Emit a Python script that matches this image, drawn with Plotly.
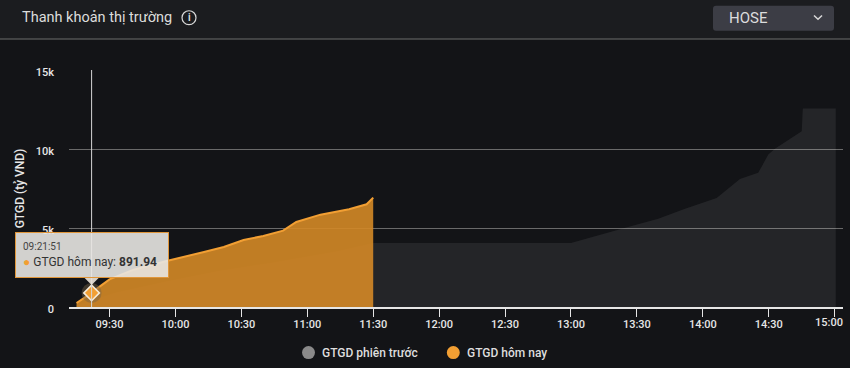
import plotly.graph_objects as go

DAY = "2024-01-02 "
prev_times = ["09:14:48","09:32:30","09:55:00","10:20:00","10:43:00","11:13:30","11:30:00","13:00:00","13:27:36","13:39:42","13:51:54","14:06:18","14:16:54","14:25:12","14:29:48","14:32:48","14:45:00","14:45:30","15:00:30"]
prev_values = [100,900,1600,2300,2790,3526,4050,4050,5127,5591,6225,6900,8108,8490,9647,10008,11122,12560,12560]
today_times = ["09:15:00","09:21:51","09:25:40","09:30:00","09:41:00","09:56:00","10:13:00","10:22:00","10:31:00","10:40:00","10:49:00","10:55:00","11:06:00","11:19:00","11:27:00","11:30:00"]
today_values = [253,891.94,1308,1751,2363,2912,3481,3798,4241,4494,4832,5380,5845,6182,6499,6921]
tick_times = ["09:30","10:00","10:30","11:00","11:30","12:00","12:30","13:00","13:30","14:00","14:30","15:00"]
y_ticks = [0,5000,10000,15000]
y_labels = ["0","5k","10k","15k"]
hover_time = "09:21:51"
hover_value = 891.94
series_names = ["GTGD phiên trước","GTGD hôm nay"]

W, H = 850, 368
L, R, T, B = 69, 843, 70.3, 307.4
FONT = "Roboto"
BG = "#131417"
HEAD = "#1b1c1f"
ORANGE = "#f29f33"

def px(x): return (x - L) / (R - L)
def py(y): return (B - y) / (B - T)
def t(s): return DAY + s

fig = go.Figure()
fig.add_trace(go.Scatter(x=[t(s) for s in prev_times], y=prev_values, name=series_names[0], mode="lines",
                         line=dict(width=0, color="#8a8a8a"), fill="tozeroy", fillcolor="rgba(255,255,255,0.075)", showlegend=False))
fig.add_trace(go.Scatter(x=[t(s) for s in today_times], y=today_values, name=series_names[1], mode="lines",
                         line=dict(width=2, color=ORANGE), fill="tozeroy", fillcolor="rgba(212,136,38,0.9)", showlegend=False))
fig.add_trace(go.Scatter(x=[t(hover_time)], y=[hover_value], mode="markers", hoverinfo="skip", showlegend=False,
                         marker=dict(size=20, color="rgba(120,100,70,0.45)", line=dict(width=0))))
fig.add_trace(go.Scatter(x=[t(hover_time)], y=[hover_value], mode="markers", hoverinfo="skip", showlegend=False,
                         marker=dict(size=12, symbol="diamond", color=ORANGE, line=dict(width=1.6, color="#f5ead8"))))

def rect(x0, y0, x1, y1, fill, layer="below", line=None):
    return dict(type="rect", xref="paper", yref="paper", x0=px(x0), x1=px(x1), y0=py(y0), y1=py(y1),
                fillcolor=fill, line=dict(width=0) if line is None else line, layer=layer)

def rounded(x0, y0, x1, y1, r, fill):
    a, b, c, d = px(x0), px(x1), py(y0), py(y1)
    rx, ry = r / (R - L), r / (B - T)
    path = (f"M {a+rx} {c} L {b-rx} {c} Q {b} {c} {b} {c-ry} L {b} {d+ry} Q {b} {d} {b-rx} {d} "
            f"L {a+rx} {d} Q {a} {d} {a} {d+ry} L {a} {c-ry} Q {a} {c} {a+rx} {c} Z")
    return dict(type="path", xref="paper", yref="paper", path=path, fillcolor=fill, line=dict(width=0), layer="below")

def circle(cx, cy, r, fill, line=None):
    return dict(type="circle", xref="paper", yref="paper", x0=px(cx-r), x1=px(cx+r), y0=py(cy+r), y1=py(cy-r),
                fillcolor=fill, line=dict(width=0) if line is None else line, layer="above")

shapes = [
    rect(0, 0, W, 39, HEAD),
    dict(type="line", xref="paper", yref="paper", x0=px(0), x1=px(W), y0=py(39.3), y1=py(39.3), line=dict(color="#6e6e6e", width=1), layer="below"),
    rounded(713, 6, 834, 31, 3, "#3c3d45"),
    dict(type="path", xref="paper", yref="paper", line=dict(color="#d8d8d8", width=1.5), layer="above",
         path=f"M {px(814)} {py(15.8)} L {px(818)} {py(19.6)} L {px(822)} {py(15.8)}"),
    circle(189, 18, 7, "rgba(0,0,0,0)", dict(color="#d8d8d8", width=1.2)),
    circle(308.5, 353, 6.5, "#8a8a8a"),
    circle(453.3, 353, 6.5, ORANGE),
    dict(type="line", xref="x", yref="paper", x0=t(hover_time), x1=t(hover_time), y0=0, y1=1,
         line=dict(color="#d5d5d5", width=1), layer="above"),
    dict(type="path", xref="x", yref="y", xsizemode="pixel", ysizemode="pixel", xanchor=t(hover_time), yanchor=hover_value,
         path="M -7 15 L 0 8 L 7 15 Z", fillcolor="rgba(232,225,215,0.92)", line=dict(width=0), layer="above"),
]

def note(x, y, text, size, color="#e6e6e6", anchor="left", weight=None):
    f = dict(family=FONT, size=size, color=color)
    if weight: f["weight"] = weight
    return dict(xref="paper", yref="paper", x=px(x), y=py(y), text=text, showarrow=False, xanchor=anchor, yanchor="middle", font=f)

annotations = [
    note(20, 18, "Thanh khoản thị trường", 14.5, "#dcdcdc"),
    note(727, 18.5, "HOSE", 15, "#dcdcdc"),
    note(189, 18, "i", 10, "#dcdcdc", "center", 700),
    note(320, 353, series_names[0], 12, "#dedede", weight=500),
    note(465, 353, series_names[1], 12, "#dedede", weight=500),
    # the last time label sits left of its tick so that it stays inside the page
    note(829, 323, tick_times[-1], 11, "#e6e6e6", "center", 500),
    dict(xref="x", yref="y", x=t(hover_time), y=hover_value, xshift=0.5, yshift=38, showarrow=False,
         xanchor="center", yanchor="middle", width=138, height=30, borderpad=7, align="left", valign="middle",
         bgcolor="rgba(232,230,226,0.9)", bordercolor="#e0963a", borderwidth=1,
         font=dict(family=FONT, size=12, color="#333333"),
         text=(f'<span style="font-size:10px;color:#444444">{hover_time}</span><br>'
               f'<span style="color:{ORANGE}">●</span> {series_names[1]}: <b>{hover_value}</b>')),
]

x_labels = tick_times[:-1] + [""]

fig.update_layout(
    width=W, height=H, autosize=False,
    margin=dict(l=L, r=W - R, t=T, b=H - B, pad=0),
    paper_bgcolor=BG, plot_bgcolor=BG,
    showlegend=False, hovermode=False,
    shapes=shapes, annotations=annotations,
    font=dict(family=FONT, color="#e6e6e6"),
    xaxis=dict(type="date", range=[t("09:11:34"), t("15:03:47")],
               tickvals=[t(s) for s in tick_times], ticktext=x_labels,
               ticks="outside", ticklen=8, tickcolor="#e6e6e6", tickwidth=1, ticklabelstandoff=-2,
               showgrid=False, showline=True, linecolor="#e6e6e6", linewidth=1.5, zeroline=False, automargin=False,
               tickfont=dict(family=FONT, size=11, color="#e6e6e6", weight=500)),
    yaxis=dict(range=[0, 15000], tickvals=y_ticks, ticktext=y_labels, automargin=False,
               showgrid=True, gridcolor="#6a6a6a", gridwidth=1, zeroline=False, showline=False,
               ticks="", ticklabelstandoff=14, ticklabelshift=2,
               tickfont=dict(family=FONT, size=11, color="#e6e6e6", weight=500),
               title=dict(text="GTGD (tỷ VND)", standoff=8, font=dict(family=FONT, size=12, color="#e6e6e6", weight=500))),
)

fig.write_html("out.html", config=dict(displayModeBar=False, responsive=False),
               post_script="document.body.style.margin='0';document.body.style.overflow='hidden';")
